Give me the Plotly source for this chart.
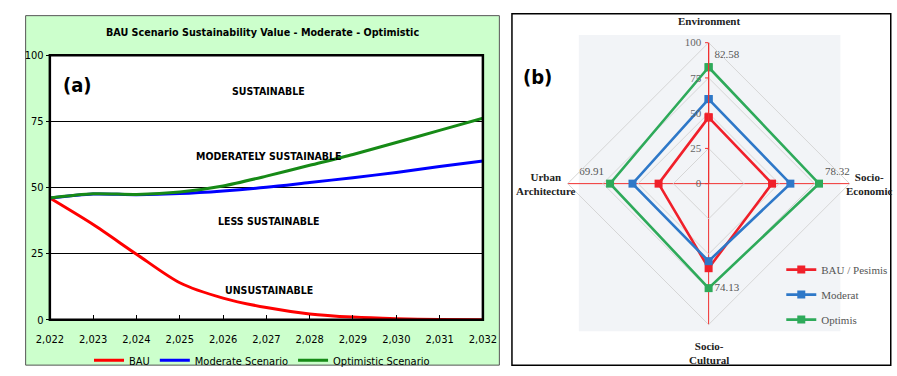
import plotly.graph_objects as go

# ---------------- data ----------------
years = list(range(2022, 2033))
bau = [46, 36, 24.8, 14, 8.2, 4.6, 2.2, 1.0, 0.4, 0.1, 0]
moderate = [46, 47.5, 47.3, 47.7, 48.7, 50.1, 51.9, 53.7, 55.7, 57.9, 60]
optimistic = [46, 47.6, 47.4, 48.3, 50.6, 54.3, 58.4, 62.5, 67.0, 71.6, 76.2]
year_ticks = list(range(2022, 2033))
y_ticks = [0, 25, 50, 75, 100]

zones = ["SUSTAINABLE", "MODERATELY SUSTAINABLE", "LESS SUSTAINABLE", "UNSUSTAINABLE"]
zone_y = [86.5, 62, 37.2, 11.3]

radar_axes = ["Environment", "Socio-Economic", "Socio-Cultural", "Urban Architecture"]
radar_bau = [47, 45, 60, 35.5]
radar_moderat = [60, 58, 55, 54]
radar_optimis = [82.58, 78.32, 74.13, 69.91]
radar_ticks = [0, 25, 50, 75, 100]

W, H = 897, 376
def px(x): return x / W
def py(y): return 1 - y / H

COND = "DejaVu Sans Condensed, Liberation Sans Narrow, Arial Narrow, sans-serif"
SERIF = "Liberation Serif, Times New Roman, serif"

fig = go.Figure()

# ---------------- left line chart ----------------
fig.add_trace(go.Scatter(x=years, y=bau, mode="lines", name="BAU",
                         line=dict(color="#ff0000", width=3, shape="spline", smoothing=0.8),
                         legend="legend"))
fig.add_trace(go.Scatter(x=years, y=moderate, mode="lines", name="Moderate Scenario",
                         line=dict(color="#0000ff", width=3, shape="spline", smoothing=0.8),
                         legend="legend"))
fig.add_trace(go.Scatter(x=years, y=optimistic, mode="lines", name="Optimistic Scenario",
                         line=dict(color="#168a16", width=3, shape="spline", smoothing=0.8),
                         legend="legend"))

# ---------------- right radar chart ----------------
def closed(v): return list(v) + [v[0]]
theta = closed(radar_axes)
radar_cols = {"BAU / Pesimis": "#f0202a", "Moderat": "#2e78c8", "Optimis": "#2eaa5a"}
for nm, vals in [("BAU / Pesimis", radar_bau), ("Moderat", radar_moderat), ("Optimis", radar_optimis)]:
    kw = {}
    if nm == "Optimis":
        kw = dict(text=["%.2f" % v for v in vals] + [""],
                  textposition=["top right", "top right", "middle right", "top left", "middle right"],
                  textfont=dict(family=SERIF, size=11, color="#555555"))
    fig.add_trace(go.Scatterpolar(r=closed(vals), theta=theta,
                                  mode="lines+markers+text" if kw else "lines+markers",
                                  name=nm, legend="legend2", legendgroup=nm,
                                  line=dict(color=radar_cols[nm], width=2.6),
                                  marker=dict(symbol="square", size=8, color=radar_cols[nm]),
                                  **kw))

# ---------------- layout ----------------
shapes = [
    dict(type="rect", xref="paper", yref="paper", x0=px(12), x1=px(501), y0=py(372), y1=py(10),
         fillcolor="#ccffcc", line=dict(color="#555555", width=1), layer="below"),
    dict(type="rect", xref="x domain", yref="y domain", x0=0, x1=1, y0=0, y1=1,
         fillcolor="white", line=dict(width=0), layer="below"),
    dict(type="rect", xref="paper", yref="paper", x0=px(583), x1=px(853), y0=py(337), y1=py(30),
         fillcolor="#f2f4f7", line=dict(width=0), layer="below"),
    dict(type="rect", xref="paper", yref="paper", x0=px(514), x1=px(905), y0=py(372), y1=py(8),
         fillcolor="rgba(0,0,0,0)", line=dict(color="black", width=1.5), layer="below"),
    dict(type="rect", xref="x domain", yref="y domain", x0=0, x1=1, y0=0, y1=1,
         fillcolor="rgba(0,0,0,0)", line=dict(color="black", width=2.5), layer="above"),
]

def ann(text, x, y, font, xref="paper", yref="paper"):
    return dict(text=text, xref=xref, yref=yref, x=x, y=y, showarrow=False,
                xanchor="center", yanchor="middle", font=font)

annotations = [
    ann("<b>BAU Scenario Sustainability Value - Moderate - Optimistic</b>", px(257), py(27),
        dict(family=COND, size=10.7, color="black")),
    ann("<b>(a)</b>", px(66), py(82), dict(family=COND, size=20, color="black")),
    ann("<b>(b)</b>", px(540), py(74), dict(family=COND, size=20, color="black")),
]
for z, zy in zip(zones, zone_y):
    annotations.append(ann("<b>%s</b>" % z, 2027.05, zy, dict(family=COND, size=10.5, color="black"),
                           xref="x", yref="y"))

# radar axis labels
lab = dict(family=SERIF, size=11, color="#222")
annotations += [
    ann("<b>Environment</b>", px(717), py(16), lab),
    ann("<b>Urban<br>Architecture</b>", px(549), py(184), lab),
    ann("<b>Socio-<br>Economic</b>", px(883), py(184), lab),
    ann("<b>Socio-<br>Cultural</b>", px(717), py(359), lab),
]

R = 146
fig.update_layout(
    width=W, height=H, margin=dict(l=0, r=0, t=0, b=0),
    paper_bgcolor="white", plot_bgcolor="white",
    shapes=shapes, annotations=annotations,
    xaxis=dict(domain=[px(37), px(484)], range=[2022, 2032], tickvals=year_ticks, tickformat=",d",
               showgrid=False, zeroline=False, ticks="inside", ticklen=5, tickcolor="black",
               ticklabelstandoff=11,
               tickfont=dict(family=COND, size=11, color="black"), showline=False),
    yaxis=dict(domain=[py(325), py(51)], range=[0, 100], tickvals=y_ticks, showgrid=True,
               gridcolor="black", gridwidth=1, zeroline=False, ticks="outside", ticklen=3,
               tickcolor="black", tickfont=dict(family=COND, size=11, color="black"), showline=False),
    polar=dict(
        domain=dict(x=[px(717 - R), px(717 + R)], y=[py(184 + R), py(184 - R)]),
        bgcolor="rgba(0,0,0,0)", gridshape="linear",
        radialaxis=dict(range=[0, 100], tickvals=radar_ticks, angle=90, tickangle=90,
                        gridcolor="#d6d6d6", showline=True, linecolor="#f03030", linewidth=1.2,
                        ticks="outside", ticklen=3, tickcolor="#f03030", side="counterclockwise",
                        tickfont=dict(family=SERIF, size=11, color="#666666")),
        angularaxis=dict(direction="clockwise", rotation=90, showticklabels=False,
                         gridcolor="#f03030", gridwidth=1.2, linecolor="#d6d6d6", ticks=""),
    ),
    legend=dict(orientation="h", x=px(256), xanchor="center", y=py(352), yanchor="top",
                bgcolor="rgba(0,0,0,0)", font=dict(family=COND, size=11, color="black"),
                itemwidth=30, tracegroupgap=0),
    legend2=dict(x=px(792), y=py(258), xanchor="left", yanchor="top", bgcolor="rgba(0,0,0,0)",
                 traceorder="grouped", tracegroupgap=6,
                 font=dict(family=SERIF, size=11, color="#555555"), itemwidth=30),
)

fig.write_html("out.html")
